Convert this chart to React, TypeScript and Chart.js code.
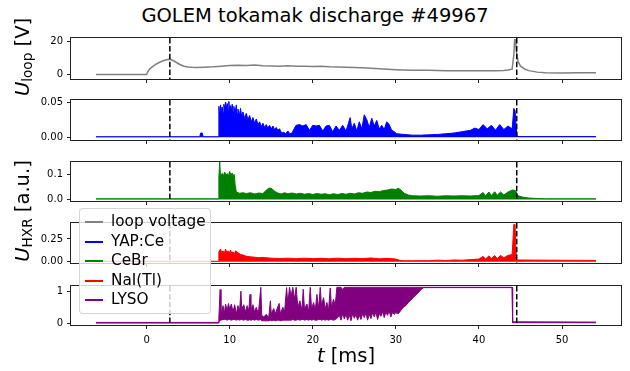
import React, { useEffect, useRef } from "react";
import { Chart, registerables } from "chart.js";
Chart.register(...registerables);

const FONT = "'DejaVu Sans', 'Liberation Sans', sans-serif";
const TITLE = "GOLEM tokamak discharge #49967";
const SERIES_NAMES = ["loop voltage", "YAP:Ce", "CeBr", "NaI(Tl)", "LYSO"];
const SERIES_COLORS = ["#808080", "#0000ff", "#008000", "#ff0000", "#800080"];
const X_TICKS = [0, 10, 20, 30, 40, 50];
const EVENT_TIMES = [2.8, 44.55];

// loop voltage [V]
const tLoop = [
  -6.1, -0.05, 0.0, 0.3, 0.6, 1.0, 1.5, 2.0, 2.5, 2.8,
  3.2, 3.6, 4.0, 4.5, 5.0, 5.5, 6, 7, 8, 9,
  10, 11, 12, 13, 14, 15, 16, 17, 18, 19,
  20, 21, 22, 23, 24, 25, 26, 27, 28, 29,
  30, 31, 32, 33, 34, 35, 36, 37, 38, 39,
  40, 41, 42, 43, 43.5, 44.0, 44.2, 44.3, 44.4, 44.5,
  44.7, 45.0, 45.5, 46, 47, 48, 50, 52, 54.1,
];
const uLoop = [
  0, 0, 0.2, 3.0, 4.3, 5.8, 7.2, 8.3, 9.0, 9.2,
  8.4, 7.2, 6.0, 5.0, 4.5, 4.3, 4.2, 4.4, 4.6, 5.0,
  5.4, 5.6, 5.4, 5.7, 5.3, 5.1, 5.0, 5.2, 5.0, 4.9,
  4.8, 4.9, 4.6, 4.5, 4.4, 4.2, 4.0, 3.8, 3.4, 3.1,
  2.9, 2.7, 2.6, 2.6, 2.5, 2.4, 2.3, 2.3, 2.2, 2.2,
  2.2, 2.2, 2.3, 2.4, 2.7, 3.2, 12, 21, 21, 14,
  8, 5, 3.3, 2.3, 1.4, 1.0, 0.9, 1.0, 1.0,
];

// YAP:Ce [a.u.] (upper envelope of the noisy signal)
const tYap = [
  -6.1, 6.4, 6.5, 6.7, 6.8, 8.6, 8.7, 8.8, 8.9, 9.0,
  9.1, 9.2, 9.3, 9.4, 9.5, 9.6, 9.7, 9.8, 9.9, 10.0,
  10.1, 10.2, 10.3, 10.4, 10.5, 10.65, 10.8, 10.9, 11.0, 11.15,
  11.3, 11.45, 11.6, 11.8, 12.0, 12.2, 12.4, 12.6, 12.8, 13.0,
  13.2, 13.4, 13.6, 13.8, 14.0, 14.2, 14.4, 14.6, 14.8, 15.0,
  15.2, 15.4, 15.6, 15.8, 16.0, 16.25, 16.5, 16.75, 17.0, 17.25,
  17.5, 17.75, 18.0, 18.4, 18.8, 19.2, 19.6, 20.0, 20.4, 20.8,
  21.2, 21.6, 22.0, 22.4, 22.8, 23.2, 23.6, 24.0, 24.3, 24.5,
  24.7, 25.0, 25.3, 25.6, 25.9, 26.2, 26.5, 26.8, 27.1, 27.4,
  27.7, 28.0, 28.3, 28.6, 28.9, 29.2, 29.5, 29.8, 30.1, 31,
  32, 33, 34, 35, 36, 37, 38, 39, 39.5, 40.0,
  40.5, 41.0, 41.5, 42.0, 42.5, 43.0, 43.5, 44.0, 44.2, 44.35,
  44.5, 44.6, 54.1,
];
const vYap = [
  0.0008, 0.0008, 0.006, 0.006, 0.0008, 0.0008, 0.044, 0.030, 0.046, 0.038,
  0.043, 0.035, 0.047, 0.040, 0.050, 0.041, 0.048, 0.040, 0.051, 0.038,
  0.045, 0.037, 0.047, 0.036, 0.044, 0.035, 0.046, 0.033, 0.040, 0.030,
  0.041, 0.029, 0.036, 0.027, 0.034, 0.025, 0.031, 0.022, 0.028, 0.020,
  0.026, 0.018, 0.022, 0.015, 0.020, 0.014, 0.018, 0.013, 0.017, 0.012,
  0.016, 0.011, 0.014, 0.010, 0.012, 0.006, 0.007, 0.005, 0.009, 0.005,
  0.006, 0.012, 0.017, 0.018, 0.016, 0.018, 0.010, 0.017, 0.016, 0.017,
  0.009, 0.016, 0.017, 0.008, 0.016, 0.010, 0.017, 0.009, 0.020, 0.028,
  0.012, 0.020, 0.009, 0.022, 0.012, 0.032, 0.025, 0.014, 0.027, 0.016,
  0.024, 0.012, 0.017, 0.011, 0.022, 0.018, 0.010, 0.008, 0.005, 0.004,
  0.003, 0.003, 0.0035, 0.004, 0.005, 0.006, 0.008, 0.010, 0.013, 0.011,
  0.018, 0.012, 0.017, 0.010, 0.018, 0.011, 0.016, 0.012, 0.041, 0.038,
  0.012, 0.001, 0.001,
];

// CeBr [a.u.]
const tCebr = [
  -6.1, 8.6, 8.7, 8.8, 8.9, 9.1, 9.25, 9.4, 9.55, 9.7,
  9.85, 10.0, 10.15, 10.3, 10.45, 10.55, 10.65, 10.8, 11.2, 11.6,
  12.0, 12.5, 13.0, 13.5, 14.0, 14.5, 14.8, 15.1, 15.4, 15.8,
  16.2, 16.6, 17.0, 17.5, 18.0, 18.5, 19.0, 19.5, 20.0, 20.5,
  21.0, 21.5, 22.0, 22.5, 23.0, 23.5, 24.0, 24.5, 25.0, 25.5,
  26.0, 26.5, 27.0, 27.5, 28.0, 28.5, 29.0, 29.5, 30.0, 30.3,
  30.6, 31.0, 31.5, 32, 33, 34, 35, 36, 37, 38,
  39, 40, 40.5, 40.8, 41.2, 41.5, 41.9, 42.2, 42.6, 43.0,
  43.5, 44.0, 44.4, 44.7, 45.2, 46, 47, 48, 54.1,
];
const vCebr = [
  0.003, 0.003, 0.09, 0.15, 0.09, 0.105, 0.095, 0.110, 0.098, 0.104,
  0.095, 0.112, 0.098, 0.106, 0.095, 0.100, 0.060, 0.030, 0.025, 0.027,
  0.024, 0.027, 0.022, 0.026, 0.024, 0.040, 0.046, 0.043, 0.033, 0.026,
  0.022, 0.027, 0.023, 0.026, 0.022, 0.025, 0.021, 0.024, 0.020, 0.024,
  0.021, 0.023, 0.019, 0.023, 0.020, 0.024, 0.021, 0.025, 0.022, 0.027,
  0.025, 0.030, 0.028, 0.033, 0.031, 0.036, 0.038, 0.042, 0.040, 0.045,
  0.038, 0.025, 0.018, 0.015, 0.014, 0.015, 0.013, 0.015, 0.014, 0.015,
  0.014, 0.016, 0.028, 0.015, 0.030, 0.016, 0.031, 0.017, 0.030, 0.018,
  0.030, 0.038, 0.036, 0.015, 0.010, 0.006, 0.004, 0.003, 0.003,
];

// NaI(Tl) [a.u.]
const tNai = [
  -6.1, 8.6, 8.7, 8.9, 9.05, 9.2, 9.35, 9.5, 9.65, 9.8,
  9.95, 10.1, 10.25, 10.4, 10.55, 10.7, 11.0, 11.3, 11.6, 12.0,
  12.5, 13.0, 13.5, 14, 15, 16, 17, 18, 19, 20,
  21, 22, 23, 24, 25, 26, 27, 28, 29, 30,
  30.5, 31, 32, 33, 34, 35, 36, 37, 38, 39,
  40, 40.5, 40.8, 41.2, 41.5, 41.9, 42.2, 42.6, 43.0, 43.5,
  44.0, 44.2, 44.35, 44.5, 54.1,
];
const vNai = [
  0.006, 0.006, 0.11, 0.14, 0.10, 0.12, 0.09, 0.14, 0.10, 0.12,
  0.09, 0.13, 0.09, 0.11, 0.08, 0.12, 0.10, 0.08, 0.075, 0.06,
  0.055, 0.05, 0.045, 0.048, 0.040, 0.036, 0.040, 0.034, 0.040, 0.035,
  0.038, 0.033, 0.040, 0.034, 0.038, 0.035, 0.042, 0.033, 0.038, 0.030,
  0.015, 0.012, 0.012, 0.013, 0.012, 0.018, 0.014, 0.020, 0.018, 0.024,
  0.030, 0.060, 0.030, 0.065, 0.035, 0.068, 0.035, 0.070, 0.045, 0.070,
  0.080, 0.41, 0.41, 0.02, 0.015,
];

// LYSO [a.u.] (upper and lower envelopes of the noisy signal)
const tLyso = [
  -6.1, 8.6, 8.7, 8.85, 8.95, 9.2, 9.35, 9.5, 9.7, 9.85,
  10.0, 10.2, 10.4, 10.6, 10.8, 11.0, 11.2, 11.35, 11.45, 11.7,
  11.9, 12.1, 12.3, 12.45, 12.55, 12.8, 13.0, 13.2, 13.45, 13.75,
  13.85, 14.1, 14.4, 14.7, 14.9, 15.0, 15.3, 15.5, 15.7, 15.95,
  16.1, 16.4, 16.6, 16.85, 17.0, 17.2, 17.4, 17.6, 17.8, 18.0,
  18.2, 18.45, 18.7, 18.85, 19.0, 19.3, 19.5, 19.7, 19.85, 20.1,
  20.3, 20.5, 20.7, 20.9, 21.05, 21.3, 21.5, 21.7, 21.9, 22.1,
  22.25, 22.5, 22.7, 22.9, 23.2, 23.4, 23.6, 23.8, 24.0, 24.2,
  24.4, 24.6, 24.8, 25.0, 25.2, 25.4, 25.6, 25.8, 26.0, 26.2,
  26.4, 26.6, 26.8, 27.0, 27.2, 27.4, 27.6, 27.8, 28.0, 28.2,
  28.4, 28.6, 28.8, 29.0, 29.2, 29.4, 29.6, 29.8, 30.0, 30.3,
  30.6, 30.9, 31.2, 31.5, 31.8, 32.1, 32.4, 32.7, 33.0, 33.3,
  33.5, 44.0, 44.05, 54.1,
];
const lysoHigh = [
  0.03, 0.03, 0.20, 1.05, 0.25, 0.55, 0.30, 0.60, 0.40, 0.62,
  0.45, 0.60, 0.35, 0.58, 0.30, 0.55, 0.40, 1.00, 0.45, 0.58,
  0.35, 0.55, 0.40, 0.90, 0.40, 0.58, 0.35, 0.50, 0.30, 1.12,
  0.25, 0.20, 0.28, 0.18, 0.70, 0.30, 0.46, 0.30, 0.45, 0.62,
  0.30, 0.50, 0.35, 1.11, 0.60, 1.12, 0.85, 1.12, 0.75, 1.12,
  0.50, 0.70, 0.40, 1.06, 0.45, 0.60, 0.35, 1.12, 0.45, 0.65,
  0.40, 0.90, 0.45, 1.12, 0.55, 0.80, 0.45, 0.65, 0.40, 1.10,
  0.50, 0.75, 0.55, 1.12, 1.12, 1.12, 1.05, 1.12, 1.12, 1.12,
  1.12, 1.12, 1.12, 1.12, 1.12, 1.12, 1.12, 1.12, 1.12, 1.12,
  1.12, 1.12, 1.12, 1.12, 1.12, 1.12, 1.12, 1.12, 1.12, 1.12,
  1.12, 1.12, 1.12, 1.12, 1.12, 1.12, 1.12, 1.12, 1.12, 1.12,
  1.12, 1.12, 1.12, 1.12, 1.12, 1.12, 1.12, 1.12, 1.12, 1.12,
  1.12, 1.12, 0.05, 0.04,
];
const lysoLow = [
  0.01, 0.01, 0.05, 0.10, 0.10, 0.12, 0.12, 0.12, 0.10, 0.12,
  0.12, 0.10, 0.12, 0.12, 0.10, 0.12, 0.10, 0.12, 0.12, 0.10,
  0.12, 0.10, 0.10, 0.12, 0.10, 0.12, 0.10, 0.12, 0.10, 0.12,
  0.08, 0.08, 0.08, 0.08, 0.10, 0.08, 0.10, 0.08, 0.10, 0.10,
  0.08, 0.10, 0.10, 0.10, 0.10, 0.10, 0.10, 0.12, 0.10, 0.10,
  0.12, 0.10, 0.12, 0.12, 0.10, 0.12, 0.10, 0.12, 0.10, 0.12,
  0.10, 0.10, 0.12, 0.12, 0.10, 0.12, 0.10, 0.12, 0.10, 0.12,
  0.12, 0.10, 0.12, 0.15, 0.25, 0.10, 0.30, 0.14, 0.28, 0.10,
  0.26, 0.08, 0.30, 0.16, 0.28, 0.10, 0.25, 0.12, 0.30, 0.18,
  0.32, 0.10, 0.28, 0.15, 0.33, 0.20, 0.35, 0.12, 0.30, 0.22,
  0.36, 0.18, 0.35, 0.25, 0.38, 0.20, 0.34, 0.28, 0.33, 0.30,
  0.40, 0.50, 0.55, 0.65, 0.72, 0.80, 0.88, 0.95, 1.04, 1.10,
  1.11, 1.11, 0.02, 0.02,
];

const Y_TICKS = [[0, 20], [0, 0.05], [0, 0.1], [0, 0.25], [0, 1]];
const Y_TICK_LABELS = [["0", "20"], ["0.00", "0.05"], ["0.0", "0.1"], ["0.00", "0.25"], ["0", "1"]];

// layout
const W = 630;
const PLOT_LEFT = 71;
const PLOT_RIGHT = 621;
const PANEL_TOPS = [34, 96, 158, 219, 282];
const PANEL_BOTTOMS = [79, 140, 201, 263, 325];
const Y_RANGES = [[-2.75, 22.0], [-0.0039, 0.053], [-0.006, 0.15], [-0.013, 0.425], [-0.05, 1.16]];
const X_MIN = -9.1;
const X_MAX = 57.1;
const PAD_TOP = 6;

function zip(t: number[], v: number[]) {
  return t.map((x, i) => ({ x, y: v[i] }));
}

const framePlugin = {
  id: "frameAndEvents",
  afterDatasetsDraw(chart: any) {
    const { ctx, chartArea: a, scales } = chart;
    ctx.save();
    ctx.strokeStyle = "#000";
    ctx.lineWidth = 1.5;
    ctx.setLineDash([5.5, 2.4]);
    for (const t of EVENT_TIMES) {
      const x = scales.x.getPixelForValue(t);
      ctx.beginPath();
      ctx.moveTo(x, a.top);
      ctx.lineTo(x, a.bottom);
      ctx.stroke();
    }
    ctx.setLineDash([]);
    ctx.strokeStyle = "#222";
    ctx.lineWidth = 1;
    ctx.strokeRect(a.left - 0.5, a.top - 0.5, a.right - a.left + 1, a.bottom - a.top + 1);
    ctx.restore();
  },
};

function makeDatasets(i: number) {
  const base = { pointRadius: 0, tension: 0, borderWidth: 1 };
  if (i === 0) {
    return [{ ...base, data: zip(tLoop, uLoop), borderColor: SERIES_COLORS[0], borderWidth: 1.5, fill: false }];
  }
  if (i === 1) {
    return [{ ...base, data: zip(tYap, vYap), borderColor: SERIES_COLORS[1], backgroundColor: SERIES_COLORS[1], fill: "origin" }];
  }
  if (i === 2) {
    return [{ ...base, data: zip(tCebr, vCebr), borderColor: SERIES_COLORS[2], backgroundColor: SERIES_COLORS[2], fill: "origin" }];
  }
  if (i === 3) {
    return [{ ...base, data: zip(tNai, vNai), borderColor: SERIES_COLORS[3], backgroundColor: SERIES_COLORS[3], fill: "origin" }];
  }
  return [
    { ...base, data: zip(tLyso, lysoLow), borderColor: SERIES_COLORS[4], fill: false },
    { ...base, data: zip(tLyso, lysoHigh), borderColor: SERIES_COLORS[4], backgroundColor: SERIES_COLORS[4], fill: "-1" },
  ];
}

export default function App() {
  const refs = useRef<(HTMLCanvasElement | null)[]>([]);

  useEffect(() => {
    const charts: Chart[] = [];
    for (let i = 0; i < 5; i++) {
      const canvas = refs.current[i];
      if (!canvas) continue;
      const isLast = i === 4;
      const extra = isLast ? 26 : 10;
      const chart = new Chart(canvas, {
        type: "line",
        data: { datasets: makeDatasets(i) as any },
        options: {
          responsive: false,
          animation: false,
          events: [],
          layout: { padding: { top: PAD_TOP, right: W - PLOT_RIGHT, left: 0, bottom: 0 } },
          plugins: { legend: { display: false }, tooltip: { enabled: false }, title: { display: false } },
          scales: {
            x: {
              type: "linear",
              min: X_MIN,
              max: X_MAX,
              afterBuildTicks: (s: any) => {
                s.ticks = X_TICKS.map((v) => ({ value: v }));
              },
              afterFit: (s: any) => {
                s.height = extra;
              },
              ticks: {
                display: isLast,
                autoSkip: false,
                maxRotation: 0,
                padding: 5,
                color: "#000",
                font: { family: FONT, size: 10 },
                callback: (v: any) => String(v),
              },
              grid: { display: true, drawOnChartArea: false, drawTicks: true, tickLength: 4, color: "#222", lineWidth: 1 },
              border: { display: false },
            },
            y: {
              type: "linear",
              min: Y_RANGES[i][0],
              max: Y_RANGES[i][1],
              afterBuildTicks: (s: any) => {
                s.ticks = Y_TICKS[i].map((v) => ({ value: v }));
              },
              afterFit: (s: any) => {
                s.width = PLOT_LEFT;
              },
              ticks: {
                autoSkip: false,
                padding: 4,
                color: "#000",
                font: { family: FONT, size: 10 },
                callback: (_v: any, idx: number) => Y_TICK_LABELS[i][idx],
              },
              grid: { display: true, drawOnChartArea: false, drawTicks: true, tickLength: 4, color: "#222", lineWidth: 1 },
              border: { display: false },
            },
          },
        },
        plugins: [framePlugin],
      });
      charts.push(chart);
    }
    return () => charts.forEach((c) => c.destroy());
  }, []);

  const rowCenters = [222, 241.5, 261, 280.5, 300];
  const legendTop = 208;

  return (
    <div style={{ position: "fixed", left: 0, top: 0, width: W, height: 371, background: "#fff", fontFamily: FONT, color: "#000", overflow: "hidden" }}>
      <div style={{ position: "absolute", left: 0, top: 5.5, width: W, textAlign: "center", fontSize: 19.5, lineHeight: "19.5px", whiteSpace: "nowrap" }}>
        {TITLE}
      </div>
      {PANEL_TOPS.map((top, i) => {
        const extra = i === 4 ? 26 : 10;
        const h = PAD_TOP + (PANEL_BOTTOMS[i] - top) + extra;
        return (
          <canvas
            key={i}
            ref={(el) => {
              refs.current[i] = el;
            }}
            width={W}
            height={h}
            style={{ position: "absolute", left: 0, top: top - PAD_TOP, width: W, height: h, display: "block" }}
          />
        );
      })}
      <div style={{ position: "absolute", left: 23.75, top: 56.5, transform: "translate(-50%, -50%) rotate(-90deg)", fontSize: 19.5, lineHeight: "19.5px", whiteSpace: "nowrap" }}>
        <span style={{ fontStyle: "italic" }}>U</span>
        <span style={{ fontSize: "0.7em", position: "relative", top: "0.25em" }}>loop</span> [V]
      </div>
      <div style={{ position: "absolute", left: 23.75, top: 210.5, transform: "translate(-50%, -50%) rotate(-90deg)", fontSize: 19.5, lineHeight: "19.5px", whiteSpace: "nowrap" }}>
        <span style={{ fontStyle: "italic" }}>U</span>
        <span style={{ fontSize: "0.7em", position: "relative", top: "0.25em" }}>HXR</span> [a.u.]
      </div>
      <div style={{ position: "absolute", left: PLOT_LEFT, top: 346, width: PLOT_RIGHT - PLOT_LEFT, textAlign: "center", fontSize: 19.5, lineHeight: "19.5px", whiteSpace: "nowrap" }}>
        <span style={{ fontStyle: "italic" }}>t</span> [ms]
      </div>
      <div
        style={{
          position: "absolute",
          left: 79,
          top: legendTop,
          width: 132,
          height: 106,
          boxSizing: "border-box",
          background: "rgba(255,255,255,0.8)",
          border: "1px solid rgba(204,204,204,0.8)",
          borderRadius: 4,
        }}
      >
        {SERIES_NAMES.map((name, i) => {
          const c = rowCenters[i] - legendTop - 1;
          return (
            <React.Fragment key={name}>
              <div style={{ position: "absolute", left: 5, top: Math.round(c - 1), width: 18, height: 2, background: SERIES_COLORS[i] }} />
              <div style={{ position: "absolute", left: 31, top: c - 7.6, fontSize: 15.3, lineHeight: "15.3px", whiteSpace: "nowrap" }}>{name}</div>
            </React.Fragment>
          );
        })}
      </div>
    </div>
  );
}
